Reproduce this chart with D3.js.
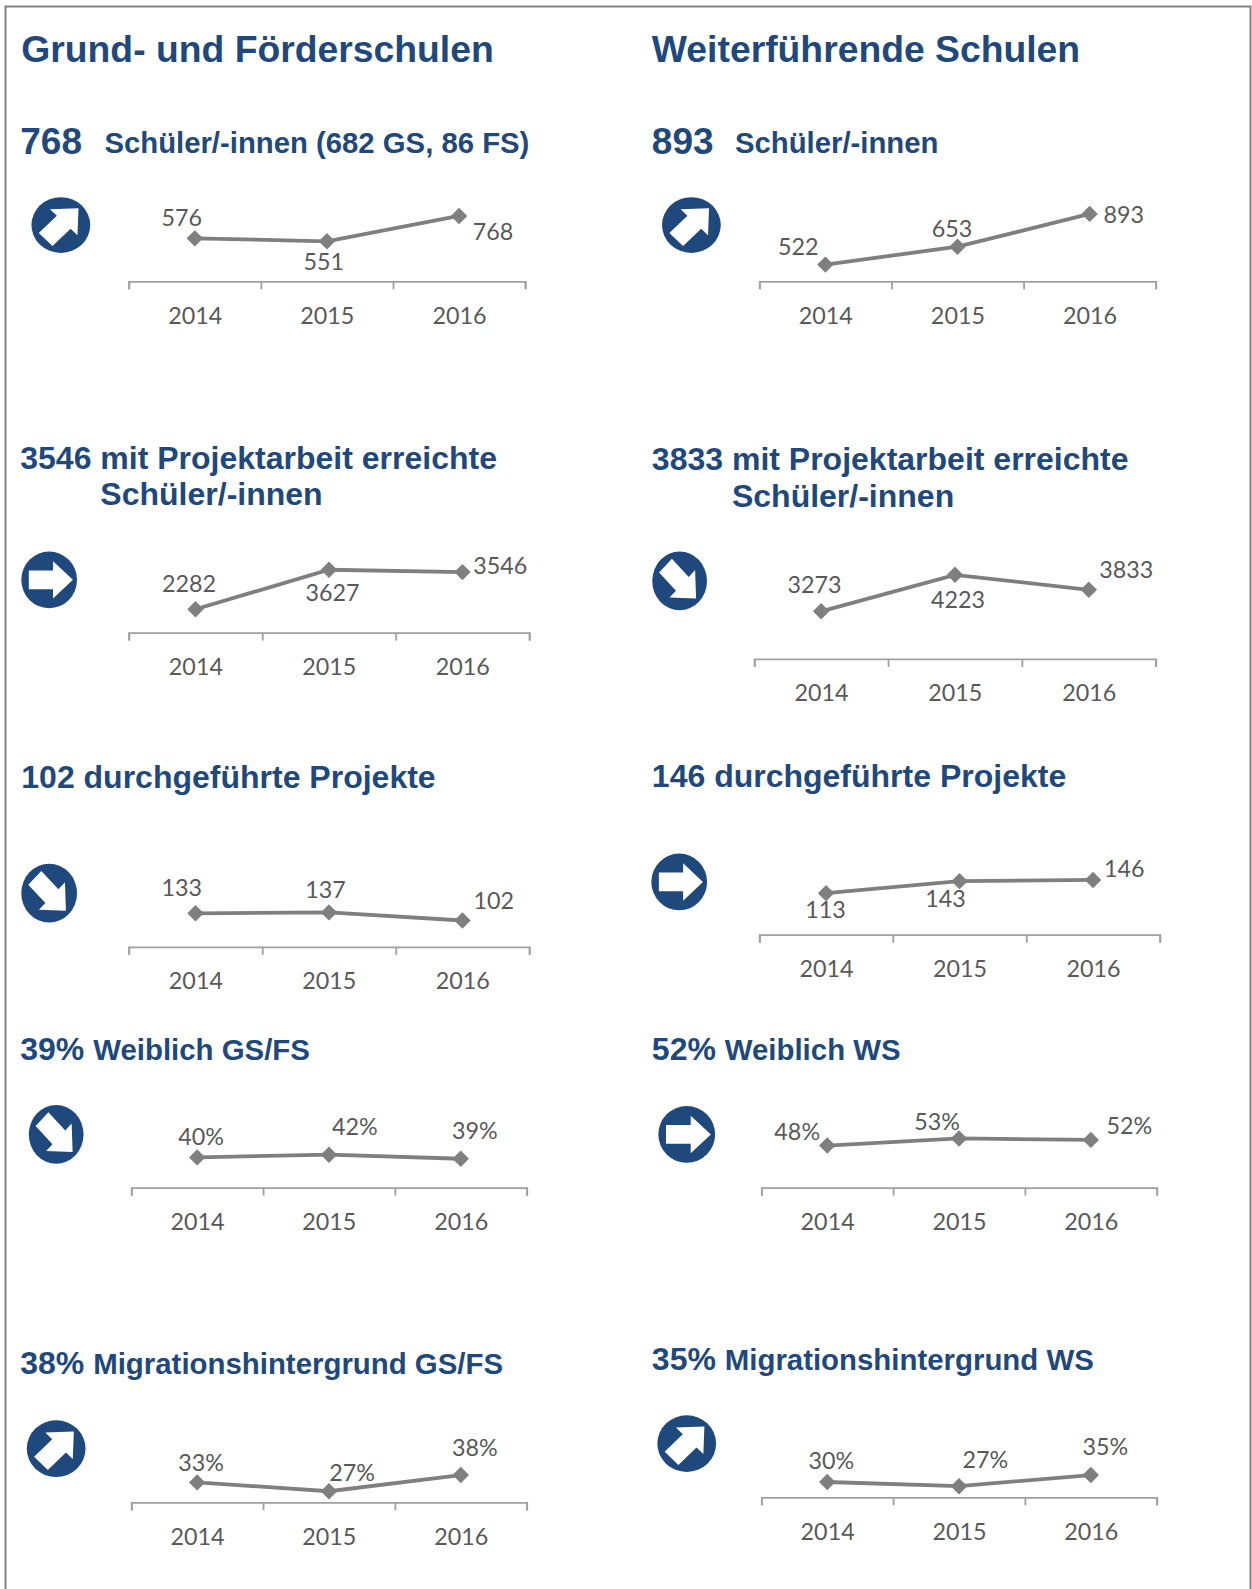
<!DOCTYPE html>
<html><head><meta charset="utf-8">
<script src="https://cdnjs.cloudflare.com/ajax/libs/d3/7.8.5/d3.min.js"></script>
<style>html,body{margin:0;padding:0;background:#fff}svg{display:block}</style>
</head><body><div id="c"></div>
<script>
const years = ["2014","2015","2016"];
const gsSchueler = [576,551,768];
const gsProjektSchueler = [2282,3627,3546];
const gsProjekte = [133,137,102];
const gsWeiblich = [40,42,39];
const gsMigration = [33,27,38];
const wsSchueler = [522,653,893];
const wsProjektSchueler = [3273,4223,3833];
const wsProjekte = [113,143,146];
const wsWeiblich = [48,53,52];
const wsMigration = [30,27,35];

const S = 1252/1235, NAVY="#1f497d", GREY="#7f7f7f", TXT="#595959";
const W=1252,H=1589;
const svg=d3.select("#c").append("svg").attr("width",W).attr("height",H);
svg.append("path").attr("d",`M${5.5},${H}V6.5H1250.5V${H}`).attr("fill","none").attr("stroke","#808080").attr("stroke-width",2);

// layout: axis ends, axis y, px of min/max value, label centres, icon
const panels=[
 {v:gsSchueler,ax:[127,518],ay:277.5,py:[238,213],lab:[[179.4,215],[319.4,258],[486.4,229]],ic:[60,222,29,27.5,-45]},
 {v:gsProjektSchueler,ax:[127,522],ay:624,py:[601,562],lab:[[186.4,576],[328,585],[493.4,558]],ic:[48.5,572,27.5,28,0]},
 {v:gsProjekte,ax:[127,522],ay:934,py:[908,900],lab:[[179.4,876],[321,878],[487,889]],ic:[48.5,881,27.5,29,45]},
 {v:gsWeiblich,ax:[129.5,519.5],ay:1171.5,py:[1143,1139],pct:1,lab:[[198.4,1122],[350,1112],[468.4,1116]],ic:[55.4,1119,27,29,45]},
 {v:gsMigration,ax:[129.5,519.5],ay:1482,py:[1471,1455],pct:1,lab:[[198.4,1443],[347.4,1453],[468.4,1428]],ic:[55.4,1429,29,28,-45]},
 {v:wsSchueler,ax:[749,1140],ay:277.5,py:[261,211],lab:[[787.4,244],[939,226],[1108.4,212]],ic:[682,222,29,27.5,-45]},
 {v:wsProjektSchueler,ax:[744,1140],ay:650,py:[603,567],lab:[[803.4,577],[945,592],[1111,562]],ic:[670.4,573,27,29,45]},
 {v:wsProjekte,ax:[749,1144],ay:922,py:[881,868],lab:[[814.4,898],[932.6,887],[1109,857]],ic:[670,870,27.5,28,0]},
 {v:wsWeiblich,ax:[751,1141],ay:1171.5,py:[1130,1123],pct:1,lab:[[786.4,1117],[924.4,1107],[1114,1111]],ic:[677.4,1119,28,28,0]},
 {v:wsMigration,ax:[751,1141],ay:1477,py:[1466,1455],pct:1,lab:[[820,1441],[972,1440],[1090.4,1427]],ic:[677.4,1424,29,28,-45]}
];
const arrow=[[-.73,-.33],[.14,-.33],[.14,-.66],[.85,0],[.14,.66],[.14,.33],[-.73,.33]];
const tf='Lato, sans-serif';
panels.forEach(p=>{
  const g=svg.append("g");
  const x0=p.ax[0]*S,x1=p.ax[1]*S,ay=p.ay*S;
  const xb=d3.scaleBand().domain(years).range([x0,x1]);
  const xe=d3.scaleLinear().domain([0,3]).range([x0,x1]);
  const y=d3.scaleLinear().domain(d3.extent(p.v)).range(p.py.map(d=>d*S));
  const ticks=g.append("g").attr("transform",`translate(0,${ay})`).call(d3.axisBottom(xe).tickValues([0,1,2,3]).tickSize(8).tickFormat(""));
  ticks.selectAll("path,line").attr("stroke","#a0a0a0").attr("stroke-width",1.8);
  const lbl=g.append("g").attr("transform",`translate(0.4,${ay})`).call(d3.axisBottom(xb).tickSize(0).tickPadding(0));
  lbl.select("path").remove();
  lbl.selectAll("text").attr("y",41.8*S).attr("dy",0).attr("font-family",tf).attr("font-size",23.3).attr("fill",TXT);
  const cx=i=>xb(years[i])+xb.bandwidth()/2;
  const line=d3.line().x((d,i)=>cx(i)).y(d=>y(d));
  g.append("path").attr("d",line(p.v)).attr("fill","none").attr("stroke",GREY).attr("stroke-width",3.8);
  g.selectAll("path.m").data(p.v).enter().append("path").attr("class","m")
    .attr("d",d3.symbol(d3.symbolSquare).size(135)())
    .attr("transform",(d,i)=>`translate(${cx(i)},${y(d)}) rotate(45)`).attr("fill",GREY);
  g.selectAll("text.v").data(p.v).enter().append("text").attr("class","v")
    .attr("x",(d,i)=>p.lab[i][0]*S).attr("y",(d,i)=>p.lab[i][1]*S+8)
    .attr("text-anchor","middle").attr("font-family",tf).attr("font-size",23.3).attr("fill",TXT)
    .text(d=>p.pct?d+"%":d);
  const [ix,iy,rx,ry,rot]=p.ic;
  const ic=g.append("g").attr("transform",`translate(${ix*S},${iy*S}) scale(${rx*S},${ry*S})`);
  ic.append("circle").attr("r",1).attr("fill",NAVY);
  ic.append("polygon").attr("points",arrow.map(d=>d.join(",")).join(" ")).attr("transform",`rotate(${rot})`).attr("fill","#fff");
});

// lead text, rest, x, baseline, lead size, rest size
const heads=[
 ["Grund- und Förderschulen","",21,61,37.3,37.3],["Weiterführende Schulen","",643,61,37.3,37.3],
 ["768","",20,152,37,37],["Schüler/-innen (682 GS, 86 FS)","",103,151,29.3,29.3],
 ["893","",643,152,37,37],["Schüler/-innen","",725,151,29.3,29.3],
 ["3546 mit Projektarbeit erreichte","",20,463,32,32],["Schüler/-innen","",99,498,32,32],
 ["3833 mit Projektarbeit erreichte","",643,464,32,32],["Schüler/-innen","",722,500,32,32],
 ["102 durchgeführte Projekte","",21,777,32,32],["146 durchgeführte Projekte","",643,776,32,32],
 ["39% ","Weiblich GS/FS",20,1046,32,29.4],["52% ","Weiblich WS",643,1046,32,29.4],
 ["38% ","Migrationshintergrund GS/FS",20,1355,32,29.4],["35% ","Migrationshintergrund WS",643,1351,32,29.4]
];
const ht=svg.selectAll("text.h").data(heads).enter().append("text").attr("class","h")
 .attr("x",d=>d[2]*S).attr("y",d=>d[3]*S).attr("xml:space","preserve").style("white-space","pre")
 .attr("font-family","'Liberation Sans',Arial,sans-serif").attr("font-weight",700).attr("fill",NAVY);
ht.append("tspan").attr("font-size",d=>d[4]).text(d=>d[0]);
ht.append("tspan").attr("font-size",d=>d[5]).text(d=>d[1]);
</script></body></html>
